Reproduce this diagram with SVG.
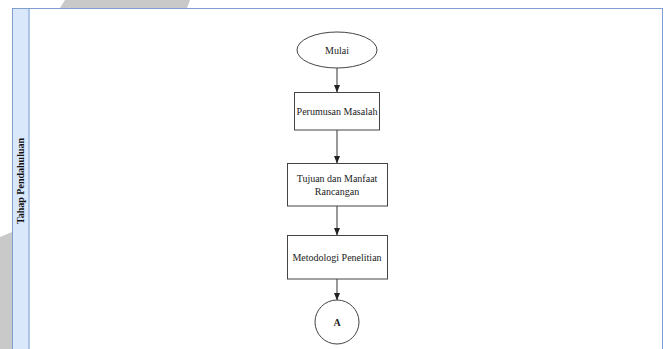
<svg xmlns="http://www.w3.org/2000/svg" width="665" height="349" viewBox="0 0 665 349">
<defs>
<style>
.shape{fill:#ffffff;stroke:#444444;stroke-width:1}
.lbl{font-family:'Liberation Serif','Times New Roman',Times,serif;font-size:10px;fill:#222222;text-anchor:middle}
.conn{stroke:#333333;stroke-width:1;fill:none;marker-end:url(#arr)}
.wm{fill:#c9c9c9}
</style>
<marker id="arr" viewBox="0 0 8 8" refX="7.5" refY="4" markerWidth="8" markerHeight="8" markerUnits="userSpaceOnUse" orient="auto">
<path d="M0,0.8 L8,4 L0,7.2 Z" fill="#222222"/>
</marker>
</defs>
<rect width="665" height="349" fill="#ffffff"/>
<polygon class="wm" points="65,0 190,0 187,8 60,8"/>
<polygon class="wm" points="0,237 12,232 12,349 0,349"/>
<g id="lane">
<rect x="12.5" y="8.5" width="650" height="350" fill="#ffffff" stroke="#7f9fd3" stroke-width="1"/>
<rect x="12.5" y="8.5" width="16.5" height="350" fill="#dae8fc" stroke="#7f9fd3" stroke-width="1"/>
<line x1="29.5" y1="9" x2="29.5" y2="349" stroke="#b3c9ec" stroke-width="1"/>
<text transform="translate(23.5,181) rotate(-90)" font-family="Liberation Serif, serif" font-size="10" font-weight="bold" fill="#111111" text-anchor="middle">Tahap Pendahuluan</text>
</g>
<g id="connectors">
<line class="conn" x1="337" y1="68" x2="337" y2="92"/>
<line class="conn" x1="337" y1="130" x2="337" y2="163"/>
<line class="conn" x1="337" y1="206" x2="337" y2="235"/>
<line class="conn" x1="337" y1="279" x2="337" y2="300"/>
</g>
<g id="mulai">
<ellipse class="shape" cx="337" cy="50" rx="40" ry="18"/>
<text class="lbl" x="337" y="54">Mulai</text>
</g>
<g id="perumusan">
<rect class="shape" x="294.5" y="92.5" width="85" height="37.5"/>
<text class="lbl" x="337" y="115">Perumusan Masalah</text>
</g>
<g id="tujuan">
<rect class="shape" x="287.5" y="163.5" width="100" height="42.5"/>
<text class="lbl" x="337" y="182">Tujuan dan Manfaat</text>
<text class="lbl" x="337" y="195">Rancangan</text>
</g>
<g id="metodologi">
<rect class="shape" x="287.5" y="235.5" width="100" height="43.5"/>
<text class="lbl" x="337" y="261">Metodologi Penelitian</text>
</g>
<g id="konektorA">
<circle class="shape" cx="337" cy="322" r="22"/>
<text class="lbl" x="337" y="326" font-weight="bold">A</text>
</g>
</svg>
